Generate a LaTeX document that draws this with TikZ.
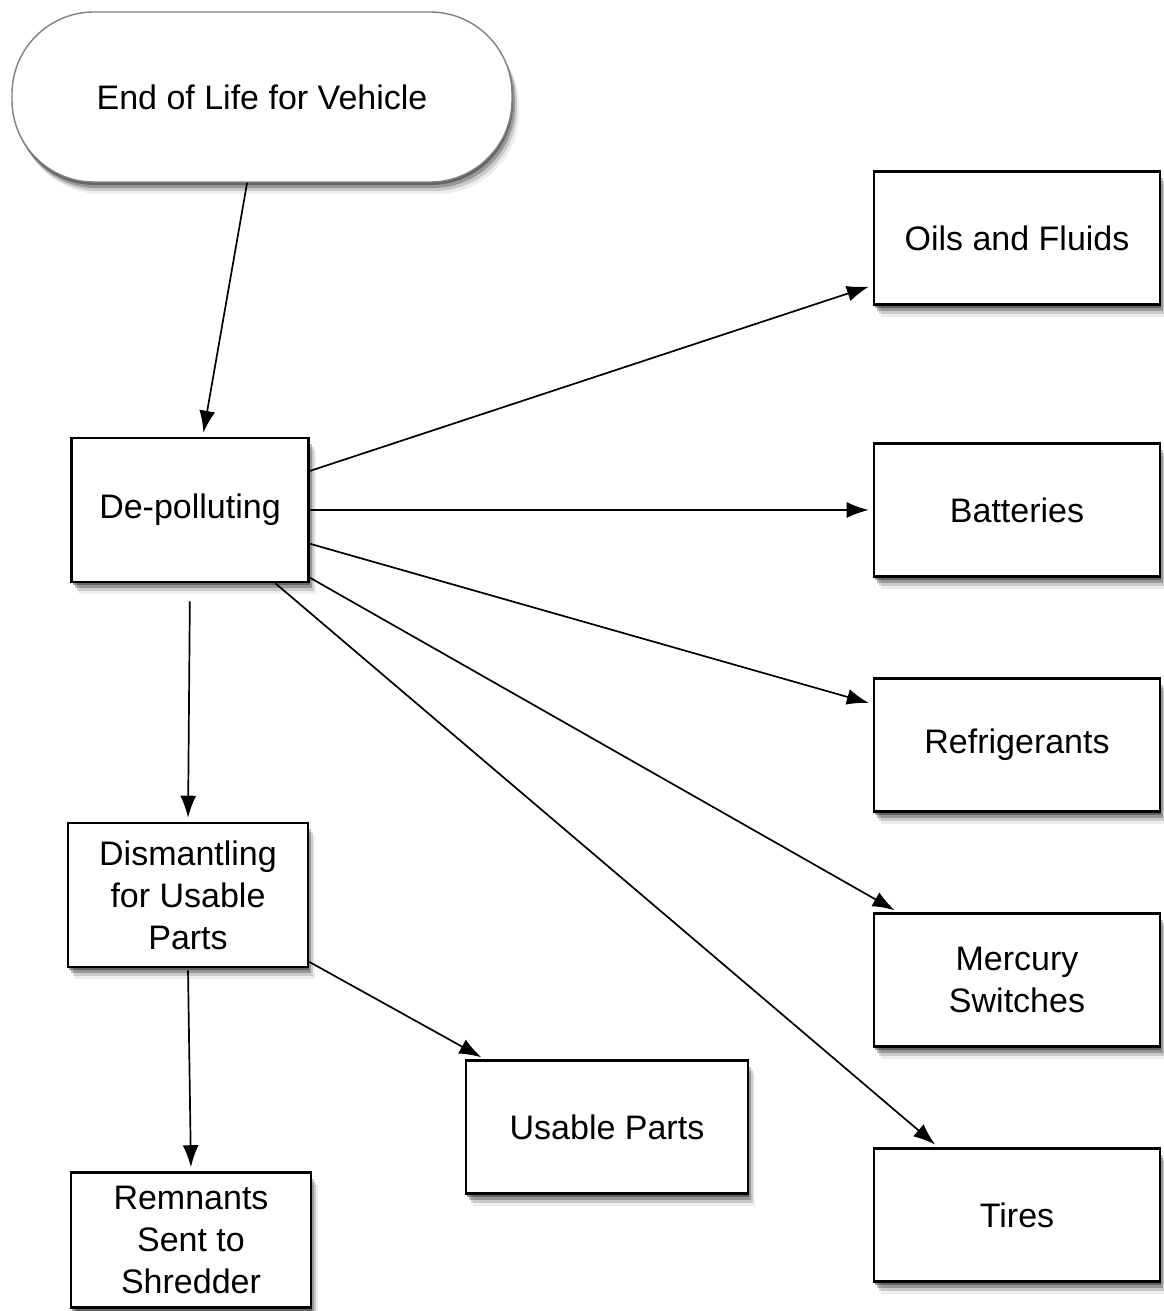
\documentclass[tikz,border=0pt]{standalone}
\usepackage{fontspec}
\setmainfont{Liberation Sans}
\usetikzlibrary{shadows,arrows.meta}

\tikzset{
  softshadow/.style={
    drop shadow={shadow xshift=1pt, shadow yshift=-3pt, opacity=0.35, fill=black},
    drop shadow={shadow xshift=3pt, shadow yshift=-6pt, opacity=0.25, fill=black},
    drop shadow={shadow xshift=5pt, shadow yshift=-9pt, opacity=0.15, fill=black},
    drop shadow={shadow xshift=7pt, shadow yshift=-12pt, opacity=0.07, fill=black}
  },
  box/.style={draw=black, line width=2.6pt, fill=white, rectangle,
    softshadow, align=center, inner sep=0pt,
    font=\fontsize{34}{42}\selectfont},
  startbox/.style={draw=black!50, line width=1.4pt, fill=white, rectangle,
    rounded corners=82pt, softshadow, align=center,
    minimum width=500pt, minimum height=170pt,
    font=\fontsize{34}{42}\selectfont},
  flow/.style={draw=black, line width=1.7pt,
    -{Latex[length=22pt,width=16pt]}, shorten >=4pt}
}

\begin{document}
\begin{tikzpicture}[x=1pt, y=-1pt]
  \useasboundingbox (0,0) rectangle (1163,1311);

  \node[startbox] (eol) at (262,97) {End of Life for Vehicle};

  \node[box, minimum width=237pt, minimum height=144pt] (dep) at (190,510) {De-polluting};

  \node[box, minimum width=286pt, minimum height=133pt] (oil)  at (1017,238)  {Oils and Fluids};
  \node[box, minimum width=286pt, minimum height=133pt] (bat)  at (1017,510)  {Batteries};
  \node[box, minimum width=286pt, minimum height=133pt] (ref)  at (1017,745)  {Refrigerants};
  \node[box, minimum width=286pt, minimum height=133pt] (mer)  at (1017,980)  {Mercury\\Switches};
  \node[box, minimum width=286pt, minimum height=133pt] (tir)  at (1017,1215) {Tires};

  \node[box, minimum width=240pt, minimum height=144pt] (dis) at (188,895) {Dismantling\\for Usable\\Parts};
  \node[box, minimum width=282pt, minimum height=133pt] (use) at (607,1127) {Usable Parts};
  \node[box, minimum width=240pt, minimum height=135pt] (rem) at (191,1240) {Remnants\\Sent to\\Shredder};

  % connectors
  \draw[flow] (eol) -- (dep);
  \draw[flow] (dep) -- (oil);
  \draw[flow] (dep) -- (bat);
  \draw[flow] (dep) -- (ref);
  \draw[flow] (dep) -- (mer);
  \draw[flow] (dep) -- (tir);
  \draw[flow, shorten <=18pt] (dep.south) -- (dis.north);
  \draw[flow] (dis) -- (use);
  \draw[flow, shorten <=2pt] (dis.south) -- (rem.north);
\end{tikzpicture}
\end{document}
